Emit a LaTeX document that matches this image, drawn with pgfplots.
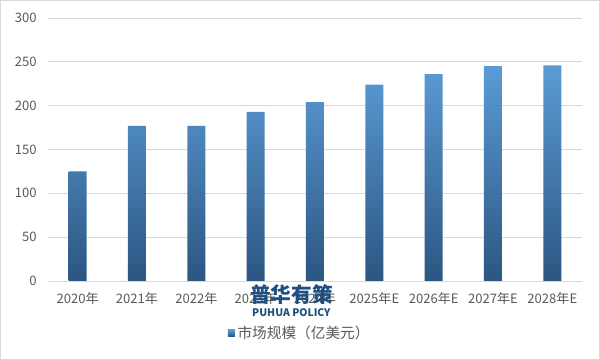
\documentclass[border=0pt]{standalone}
\usepackage{pgfplots}
\pgfplotsset{compat=1.18}
\usepackage{fontspec}
\setmainfont{Noto Sans CJK SC}
\definecolor{bartop}{HTML}{5B9BD5}
\definecolor{barbot}{HTML}{2C5682}
\definecolor{tickgray}{HTML}{595959}
\definecolor{gridgray}{HTML}{D9D9D9}
\definecolor{wm}{HTML}{1F4E80}
\begin{document}
\begin{tikzpicture}
\draw[gridgray, line width=0.75pt] (0.375pt,0.375pt) rectangle (449.625pt,269.625pt);
\begin{axis}[
  at={(36pt,59.25pt)}, anchor=south west,
  scale only axis, width=400.5pt, height=197.25pt,
  xmin=-0.5, xmax=8.5, ymin=0, ymax=300,
  ytick={0,50,...,300},
  xtick={0,...,8},
  xticklabels={2020年,2021年,2022年,2023年,2024年,2025年E,2026年E,2027年E,2028年E},
  ymajorgrids, grid style={gridgray, line width=0.6pt},
  axis x line*=bottom, axis y line*=left,
  y axis line style={draw=none},
  x axis line style={gridgray, line width=0.6pt},
  major tick length=0pt,
  tick label style={font=\fontsize{9.8pt}{11pt}\selectfont, text=tickgray},
  /pgf/number format/assume math mode=true,
  yticklabel style={xshift=-5pt},
  xticklabel style={yshift=-5pt},
  legend style={at={(0.472,-0.198)}, anchor=center, draw=none, fill=none,
    font=\fontsize{11pt}{13pt}\selectfont, text=tickgray},
  legend image code/.code={\shade[top color=bartop, bottom color=barbot] (0pt,-2.6pt) rectangle (5.2pt,2.6pt);},
]
\addplot[ybar, bar width=13.5pt, draw=none, top color=bartop, bottom color=barbot]
  coordinates {(0,125) (1,177) (2,177) (3,193) (4,204) (5,224) (6,236) (7,245) (8,246)};
\addlegendentry{市场规模（亿美元）}
\end{axis}
\node[text=wm, font=\bfseries\fontsize{15.5pt}{18pt}\selectfont] at (218.5pt,49pt) {普华有策};
\node[text=wm, font=\bfseries\fontsize{7.8pt}{9pt}\selectfont] at (218.5pt,35.5pt) {PUHUA POLICY};
\end{tikzpicture}
\end{document}
